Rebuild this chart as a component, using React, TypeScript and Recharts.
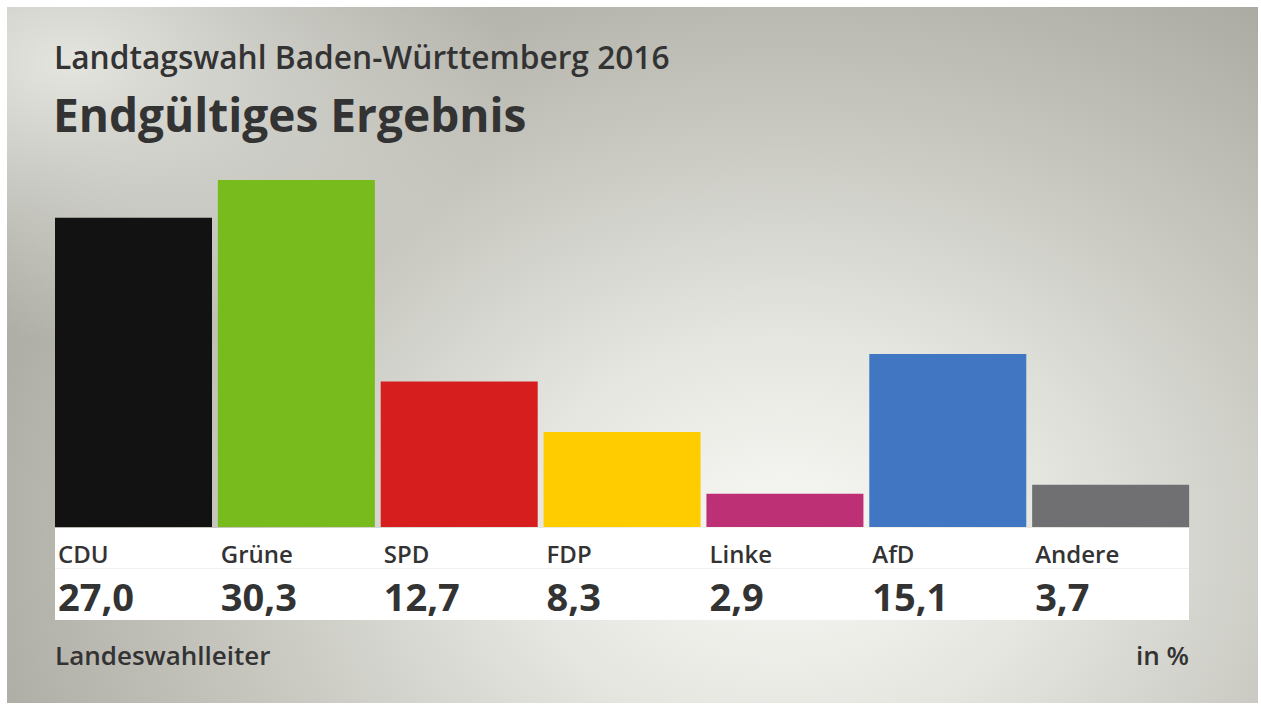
import { BarChart, Bar, XAxis, YAxis, Cell } from 'recharts'

const parties = ['CDU', 'Grüne', 'SPD', 'FDP', 'Linke', 'AfD', 'Andere']
const shares = [27.0, 30.3, 12.7, 8.3, 2.9, 15.1, 3.7]
const partyColors = ['#121212', '#78bb1c', '#d61e1e', '#ffcc00', '#be3075', '#4176c2', '#707072']

const data = parties.map((name, i) => ({ name, value: shares[i] }))

const W = 1261
const H = 705
const PLOT_LEFT = 52
const PLOT_RIGHT = 1192
const CAT_W = (PLOT_RIGHT - PLOT_LEFT) / parties.length
const FONT = '"Open Sans", "Noto Sans", sans-serif'

const fmt = (v: number) => v.toFixed(1).replace('.', ',')

function PartyTick(props: any) {
  const { x, y, payload, index } = props
  const left = x - CAT_W / 2 + 6
  return (
    <g>
      <text x={left} y={y + 28} fontFamily={FONT} fontWeight={600} fontSize={24} fill="#333">
        {payload.value}
      </text>
      <text x={left} y={y + 76} fontFamily={FONT} fontWeight={700} fontSize={38} fill="#333">
        {fmt(shares[index])}
      </text>
    </g>
  )
}

export default function App() {
  return (
    <div
      style={{
        position: 'absolute',
        left: 0,
        top: 0,
        width: W,
        height: H,
        background: '#fff',
        fontFamily: FONT,
      }}
    >
      <div
        style={{
          position: 'absolute',
          left: 7,
          top: 7,
          width: W - 10,
          height: H - 9,
          background:
            'radial-gradient(ellipse 35% 40% at 5% 8%, rgba(244,244,240,0.8), rgba(244,244,240,0) 100%),' +
            'radial-gradient(ellipse 70% 95% at 62% 76%, #f8f8f4 0%, #e6e6e1 30%, #cacac3 60%, #a8a8a0 100%)',
        }}
      />
      <div
        style={{
          position: 'absolute',
          left: 55,
          top: 528,
          width: 1134,
          height: 92,
          background: '#fff',
        }}
      >
        <div style={{ position: 'absolute', left: 0, right: 0, top: 40, height: 1, background: '#f0f0ee' }} />
      </div>
      <div style={{ position: 'absolute', left: 54, top: 35, fontSize: 31.7, fontWeight: 600, color: '#333', whiteSpace: 'nowrap' }}>
        Landtagswahl Baden-Württemberg 2016
      </div>
      <div style={{ position: 'absolute', left: 53, top: 83, fontSize: 46, fontWeight: 700, color: '#333', whiteSpace: 'nowrap' }}>
        Endgültiges Ergebnis
      </div>
      <div style={{ position: 'absolute', left: 55, top: 637, fontSize: 26, fontWeight: 600, color: '#333' }}>
        Landeswahlleiter
      </div>
      <div style={{ position: 'absolute', right: 1261 - 1189, top: 637, fontSize: 26, fontWeight: 600, color: '#333' }}>
        in %
      </div>
      <div style={{ position: 'absolute', left: 0, top: 0 }}>
        <BarChart
          width={W}
          height={H}
          data={data}
          margin={{ top: 180, right: W - PLOT_RIGHT, bottom: 78, left: PLOT_LEFT }}
          barCategoryGap={3}
        >
          <YAxis hide domain={[0, 30.3]} />
          <XAxis
            dataKey="name"
            axisLine={false}
            tickLine={false}
            height={100}
            interval={0}
            tick={<PartyTick />}
          />
          <Bar dataKey="value" isAnimationActive={false}>
            {data.map((d, i) => (
              <Cell key={d.name} fill={partyColors[i]} />
            ))}
          </Bar>
        </BarChart>
      </div>
    </div>
  )
}
